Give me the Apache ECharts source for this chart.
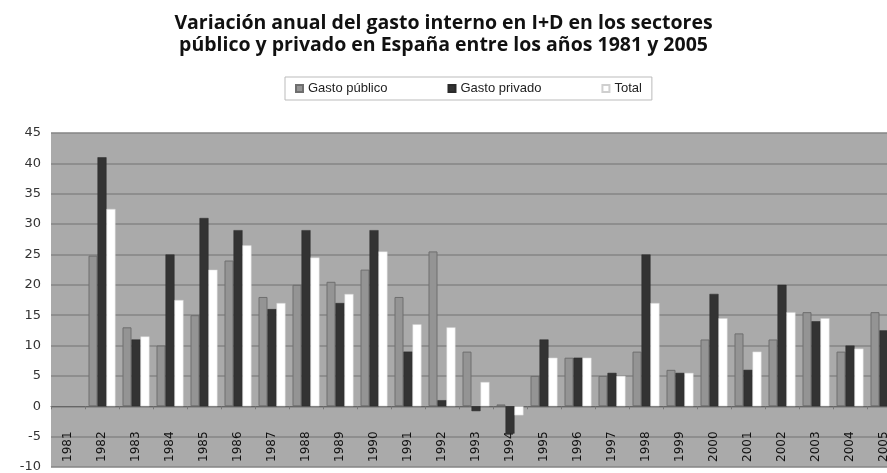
<!DOCTYPE html>
<html>
<head>
<meta charset="utf-8">
<script src="https://cdn.jsdelivr.net/npm/echarts@6/dist/echarts.min.js"></script>
<style>
html,body{margin:0;padding:0;background:#fff;}
#c{width:887px;height:473px;}
</style>
</head>
<body>
<div id="c"></div>
<script>
const titleText = "Variación anual del gasto interno en I+D en los sectores\npúblico y privado en España entre los años 1981 y 2005";
const years = ["1981","1982","1983","1984","1985","1986","1987","1988","1989","1990","1991","1992","1993","1994","1995","1996","1997","1998","1999","2000","2001","2002","2003","2004","2005"];
const gastoPublico = [null,24.8,13,10,15,24,18,20,20.5,22.5,18,25.5,9,0.3,5,8,5,9,6,11,12,11,15.5,9,15.5];
const gastoPrivado = [null,41,11,25,31,29,16,29,17,29,9,1,-0.8,-4.5,11,8,5.5,25,5.5,18.5,6,20,14,10,12.5];
const total = [null,32.5,11.5,17.5,22.5,26.5,17,24.5,18.5,25.5,13.5,13,4,-1.5,8,8,5,17,5.5,14.5,9,15.5,14.5,9.5,14];
const seriesNames = ["Gasto público","Gasto privado","Total"];

const chart = echarts.init(document.getElementById('c'));
chart.setOption({
  animation:false,
  backgroundColor:'#ffffff',
  title:{
    text:titleText,
    left:'center', top:7,
    textStyle:{fontFamily:'Open Sans', fontWeight:'bold', fontSize:19.5, color:'#111', lineHeight:22}
  },
  legend:{
    data:seriesNames,
    top:77, left:285,
    itemWidth:7, itemHeight:7, itemGap:60,
    padding:[5,10,5,10],
    borderColor:'#bbb', borderWidth:1,
    textStyle:{fontFamily:'Liberation Sans Narrow, Liberation Sans', fontSize:13, color:'#222'},
    icon:'rect'
  },
  grid:{left:51, top:133, width:850, height:334, show:true, backgroundColor:'#aaaaaa', borderWidth:0, outerBoundsMode:'none', containLabel:false},
  xAxis:{
    type:'category', data:years,
    axisLine:{onZero:true, lineStyle:{color:'#666', width:1}},
    axisTick:{show:true, interval:0, length:3, lineStyle:{color:'#777'}},
    axisLabel:{inside:true, rotate:90, margin:5, interval:0, fontFamily:'DejaVu Sans', fontSize:12, color:'#111'},
    splitLine:{show:false}
  },
  yAxis:{
    type:'value', min:-10, max:45, interval:5,
    axisLine:{show:false}, axisTick:{show:false},
    axisLabel:{fontFamily:'DejaVu Sans', fontSize:13, color:'#333', margin:10},
    splitLine:{lineStyle:{color:'#858585', width:1.5}}
  },
  series:[
    {name:seriesNames[0], type:'bar', data:gastoPublico, barWidth:9, barGap:'0%',
      itemStyle:{color:'#949494', borderColor:'#6e6e6e', borderWidth:1}},
    {name:seriesNames[1], type:'bar', data:gastoPrivado, barWidth:9, barGap:'0%',
      itemStyle:{color:'#333333', borderColor:'#2a2a2a', borderWidth:0.5}},
    {name:seriesNames[2], type:'bar', data:total, barWidth:9, barGap:'0%',
      itemStyle:{color:'#ffffff', borderColor:'#cfcfcf', borderWidth:0.5}}
  ]
});
</script>
</body>
</html>
